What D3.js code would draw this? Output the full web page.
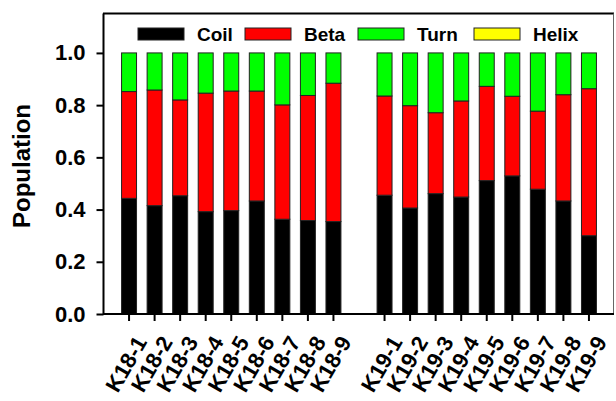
<!DOCTYPE html>
<html><head><meta charset="utf-8">
<script src="https://cdn.jsdelivr.net/npm/d3@7"></script>
<style>
html,body{margin:0;padding:0;background:#fff;}
svg{display:block;font-family:"Liberation Sans",Arial,sans-serif;}
</style></head>
<body>
<svg id="chart" width="616" height="401"></svg>
<script>
const categories = ["K18-1","K18-2","K18-3","K18-4","K18-5","K18-6","K18-7","K18-8","K18-9",
                    "K19-1","K19-2","K19-3","K19-4","K19-5","K19-6","K19-7","K19-8","K19-9"];
const coil  = [0.443,0.415,0.453,0.392,0.396,0.433,0.363,0.358,0.354,
               0.455,0.406,0.461,0.448,0.511,0.529,0.478,0.433,0.300];
const beta  = [0.409,0.443,0.367,0.454,0.458,0.421,0.438,0.479,0.530,
               0.380,0.392,0.310,0.368,0.361,0.305,0.299,0.407,0.563];
const turn  = [0.148,0.142,0.180,0.154,0.146,0.146,0.199,0.163,0.116,
               0.165,0.202,0.229,0.184,0.128,0.166,0.223,0.160,0.137];
const helix = [0,0,0,0,0,0,0,0,0, 0,0,0,0,0,0,0,0,0];
const seriesNames = ["Coil","Beta","Turn","Helix"];
const seriesColors = ["#000000","#ff0000","#00ff00","#ffff00"];
const yTicks = [0,0.2,0.4,0.6,0.8,1.0];

const rows = categories.map((c,i)=>({cat:c, Coil:coil[i], Beta:beta[i], Turn:turn[i], Helix:helix[i]}));
const domain = [...categories.slice(0,9), "__gap__", ...categories.slice(9)];

const svg = d3.select("#chart");
const x = d3.scaleBand().domain(domain).range([103.5, 614.5]).paddingInner(0.414).paddingOuter(0.707);
const y = d3.scaleLinear().domain([0, 1.151]).range([314, 13.5]);

const stacked = d3.stack().keys(seriesNames)(rows);
const color = d3.scaleOrdinal().domain(seriesNames).range(seriesColors);

svg.append("g").selectAll("g").data(stacked).join("g")
  .attr("fill", d=>color(d.key))
  .selectAll("rect").data(d=>d.filter(p=>p[1]-p[0]>0)).join("rect")
  .attr("x", d=>x(d.data.cat))
  .attr("width", x.bandwidth())
  .attr("y", d=>y(d[1]))
  .attr("height", d=>y(d[0])-y(d[1]))
  .attr("stroke","#222").attr("stroke-width",1);

// frame top & right
svg.append("line").attr("x1",103).attr("x2",614).attr("y1",y.range()[1]).attr("y2",y.range()[1])
  .attr("stroke","#000").attr("stroke-width",2);
svg.append("line").attr("x1",613.5).attr("x2",613.5).attr("y1",y.range()[1]).attr("y2",314)
  .attr("stroke","#666").attr("stroke-width",1);

// y axis
const yAxis = svg.append("g").attr("transform","translate(103.5,0)")
  .call(d3.axisLeft(y).tickValues(yTicks).tickFormat(d3.format(".1f")).tickSize(7).tickPadding(11));
yAxis.select(".domain").attr("stroke","#000").attr("stroke-width",2).attr("d","M0,314V13.5");
yAxis.selectAll(".tick line").attr("stroke","#000").attr("stroke-width",2);
yAxis.selectAll("text").attr("font-size",22).attr("font-weight","bold").attr("fill","#000")
  .attr("font-family","Liberation Sans, Arial, sans-serif");

// x axis
const xAxis = svg.append("g").attr("transform","translate(0,314)")
  .call(d3.axisBottom(x).tickValues(categories).tickSize(7).tickSizeOuter(0));
xAxis.select(".domain").attr("stroke","#000").attr("stroke-width",2).attr("d","M103,0H614");
xAxis.selectAll(".tick line").attr("stroke","#000").attr("stroke-width",2);
xAxis.selectAll("text")
  .attr("font-size",22).attr("font-weight","bold").attr("fill","#000")
  .attr("font-family","Liberation Sans, Arial, sans-serif")
  .attr("text-anchor","end").attr("dy","0.35em")
  .attr("transform","translate(12,24) rotate(-60)").attr("x",0).attr("y",0);

// y label
svg.append("text").attr("transform","translate(30,166) rotate(-90)")
  .attr("text-anchor","middle").attr("font-size",24).attr("font-weight","bold").text("Population");

// legend
const legX = [138,245,358,474];
const leg = svg.append("g").selectAll("g").data(seriesNames).join("g")
  .attr("transform",(d,i)=>`translate(${legX[i]},28)`);
leg.append("rect").attr("width",46).attr("height",12).attr("fill",d=>color(d))
  .attr("stroke","#222").attr("stroke-width",1);
leg.append("text").attr("x",59).attr("y",12.5).attr("font-size",19).attr("font-weight","bold").text(d=>d);
</script>
</body></html>
